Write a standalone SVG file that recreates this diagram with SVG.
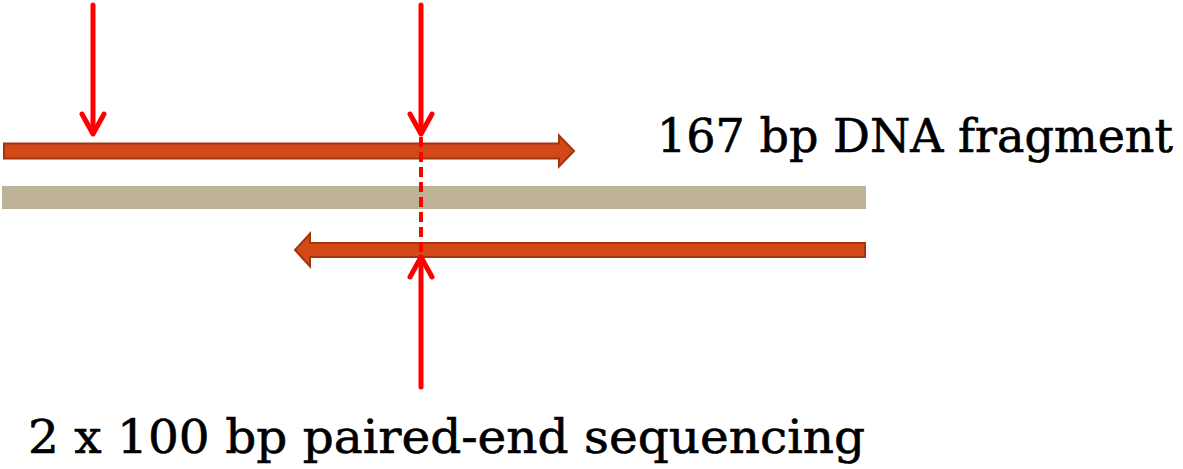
<svg xmlns="http://www.w3.org/2000/svg" width="1183" height="469" viewBox="0 0 1183 469">
  <style>
    .read { fill: #D24817; stroke: #A1350F; stroke-width: 2; stroke-linejoin: miter; }
    .ref { fill: #BDB296; }
    .cut { stroke: #FF0000; stroke-width: 5; fill: none; stroke-linecap: round; stroke-linejoin: round; }
    .dash { stroke: #FF0000; stroke-width: 4; fill: none; stroke-dasharray: 10 5; }
    .label { font-family: "DejaVu Serif", "Liberation Serif", serif; fill: #000000; stroke: #000000; stroke-width: 0.6; }
  </style>

  <rect width="1183" height="469" fill="#FFFFFF"/>

  <!-- reference strand -->
  <g id="reference">
    <rect class="ref" x="2" y="186" width="864" height="23"/>
  </g>

  <!-- forward read, left to right -->
  <g id="read-forward">
    <path class="read" d="M4,143.5 H559 V135.5 L574,151 L559,166.5 V158.5 H4 Z"/>
  </g>

  <!-- reverse read, right to left -->
  <g id="read-reverse">
    <path class="read" d="M865,243 H310 V233.5 L295,250 L310,266.5 V257 H865 Z"/>
  </g>

  <!-- cut / position markers -->
  <g id="connectors">
    <g id="marker-left">
      <line class="cut" x1="93" y1="5" x2="93" y2="133"/>
      <polyline class="cut" points="82,114 93,134 104,114"/>
    </g>
    <g id="marker-top">
      <line class="cut" x1="421" y1="5" x2="421" y2="133"/>
      <polyline class="cut" points="410,114 421,134 432,114"/>
    </g>
    <line id="overlap" class="dash" x1="421" y1="137" x2="421" y2="254"/>
    <g id="marker-bottom">
      <line class="cut" x1="421" y1="387" x2="421" y2="258"/>
      <polyline class="cut" points="410,277 421,257 432,277"/>
    </g>
  </g>

  <g id="label-fragment">
    <text class="label" x="657" y="152" font-size="46" textLength="516" lengthAdjust="spacingAndGlyphs">167 bp DNA fragment</text>
  </g>

  <g id="label-sequencing">
    <text class="label" x="28" y="453" font-size="46" textLength="837" lengthAdjust="spacingAndGlyphs">2 x 100 bp paired-end sequencing</text>
  </g>
</svg>
